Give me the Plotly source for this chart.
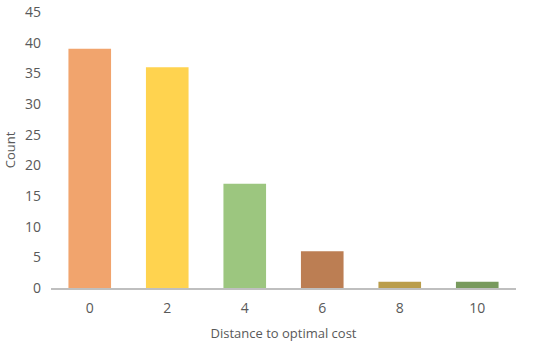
import plotly.graph_objects as go

distance = ["0", "2", "4", "6", "8", "10"]
counts = [39, 36, 17, 6, 1, 1]
bar_colors = ["#F1A46D", "#FFD34F", "#9CC67F", "#BC7E53", "#BA9D4B", "#789A5D"]
y_ticks = [0, 5, 10, 15, 20, 25, 30, 35, 40, 45]

fig = go.Figure(
    go.Bar(
        x=distance,
        y=counts,
        marker=dict(color=bar_colors, line=dict(width=0)),
    )
)

fig.update_layout(
    width=550,
    height=344,
    bargap=0.45,
    showlegend=False,
    margin=dict(l=51, r=34, t=12, b=56),
    plot_bgcolor="#FFFFFF",
    paper_bgcolor="#FFFFFF",
    font=dict(family="Open Sans, Arial, sans-serif", color="#595959", size=14),
)
fig.update_xaxes(
    type="category",
    automargin=False,
    title_text="Distance to optimal cost",
    title_font=dict(size=13, color="#595959"),
    title_standoff=13,
    ticklabelstandoff=6,
    showline=True,
    linecolor="#BFBFBF",
    linewidth=1.5,
    showgrid=False,
    ticks="",
)
fig.update_yaxes(
    automargin=False,
    title_text="Count",
    title_font=dict(size=13, color="#595959"),
    title_standoff=6,
    ticklabelstandoff=9,
    range=[0, 45],
    tickvals=y_ticks,
    showgrid=False,
    zeroline=False,
    showline=False,
    ticks="",
)

# drop the page's default body margin so the figure sits at the window corner
fig.write_html(
    "out.html",
    config={"displayModeBar": False},
    post_script="document.body.style.margin = '0';",
)
